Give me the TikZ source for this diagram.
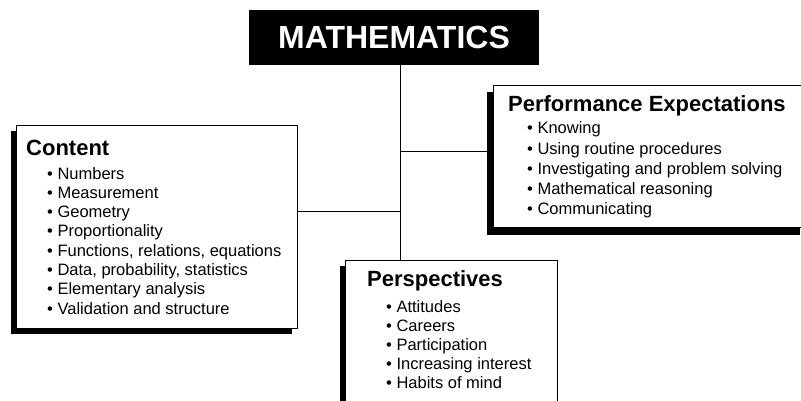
\documentclass[tikz,border=0pt]{standalone}
\usepackage{fontspec}
\setmainfont{Liberation Sans}
\usetikzlibrary{shadows}
\begin{document}
\begin{tikzpicture}[x=1pt,y=-1pt,
  box/.style={draw=black, line width=1pt, fill=white, rectangle, inner sep=0pt, anchor=north west},
  shad/.style={drop shadow={shadow xshift=-#1, shadow yshift=-#1, fill=black, opacity=1}},
  title/.style={anchor=base west, inner sep=0pt, font=\fontsize{22}{26}\selectfont\bfseries},
  item/.style={anchor=base west, inner sep=0pt, font=\fontsize{16.5}{19}\selectfont},
  conn/.style={draw=black, line width=1pt}]
\clip (0,0) rectangle (801,401);
\useasboundingbox (0,0) rectangle (801,401);
\fill[white] (0,0) rectangle (801,401);
% connectors
\coordinate (hubA) at (400,211);
\coordinate (hubB) at (400,152);
% boxes
\node[box, fill=black, minimum width=289pt, minimum height=54pt] (math) at (249,10) {};
\node[text=white, inner sep=0pt, font=\fontsize{32}{36}\selectfont\bfseries] (mathtext) at (math.center) {MATHEMATICS};
\draw[conn] (math.south -| hubA) -- (400,262);
\draw[conn] (297,211) -- (hubA);
\draw[conn] (hubB) -- (490,152);
\node[box, shad=5.5pt, minimum width=281pt, minimum height=203pt] (content) at (16,125) {};
\node[box, shad=7pt, minimum width=313pt, minimum height=142pt] (perf) at (493,85) {};
\node[box, shad=5.5pt, minimum width=212pt, minimum height=150pt] (persp) at (345,260) {};
% titles
\node[title] (tcontent) at (26,156) {Content};
\node[title] (tperf) at (508,112) {Performance Expectations};
\node[title] (tpersp) at (367,286) {Perspectives};
% items
\foreach \t [count=\i from 0] in {Numbers, Measurement, Geometry, Proportionality, {Functions, relations, equations}, {Data, probability, statistics}, Elementary analysis, Validation and structure}
  \node[item] (c\i) at (47,179+19.3*\i) {• \t};
\foreach \t [count=\i from 0] in {Knowing, Using routine procedures, Investigating and problem solving, Mathematical reasoning, Communicating}
  \node[item] (p\i) at (527,134+20.2*\i) {• \t};
\foreach \t [count=\i from 0] in {Attitudes, Careers, Participation, Increasing interest, Habits of mind}
  \node[item] (s\i) at (386,312+19*\i) {• \t};
\end{tikzpicture}
\end{document}
